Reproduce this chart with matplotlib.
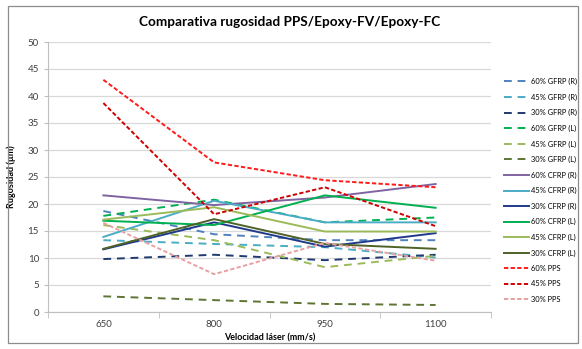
import matplotlib.pyplot as plt
from matplotlib.patches import Rectangle

plt.rcParams['font.family'] = ['Lato', 'DejaVu Sans']

velocidades = ['650', '800', '950', '1100']

series = [
    '60% GFRP (R)', '45% GFRP (R)', '30% GFRP (R)',
    '60% GFRP (L)', '45% GFRP (L)', '30% GFRP (L)',
    '60% CFRP (R)', '45% CFRP (R)', '30% CFRP (R)',
    '60% CFRP (L)', '45% CFRP (L)', '30% CFRP (L)',
    '60% PPS', '45% PPS', '30% PPS',
]

gfrp_60_r = [18.7, 14.4, 13.3, 13.3]
gfrp_45_r = [13.3, 12.6, 12.0, 10.1]
gfrp_30_r = [9.8, 10.6, 9.6, 10.6]
gfrp_60_l = [17.8, 20.8, 16.6, 17.5]
gfrp_45_l = [16.1, 13.3, 8.3, 10.4]
gfrp_30_l = [2.9, 2.2, 1.5, 1.3]
cfrp_60_r = [21.6, 19.8, 21.2, 23.7]
cfrp_45_r = [13.9, 20.6, 16.6, 16.6]
cfrp_30_r = [11.6, 16.6, 12.1, 14.6]
cfrp_60_l = [16.9, 16.1, 21.6, 19.3]
cfrp_45_l = [17.1, 19.4, 14.9, 14.9]
cfrp_30_l = [11.7, 17.2, 12.6, 11.7]
pps_60 = [43.0, 27.7, 24.4, 23.1]
pps_45 = [38.7, 18.1, 23.1, 15.9]
pps_30 = [16.5, 7.0, 12.8, 9.5]

valores = [gfrp_60_r, gfrp_45_r, gfrp_30_r,
           gfrp_60_l, gfrp_45_l, gfrp_30_l,
           cfrp_60_r, cfrp_45_r, cfrp_30_r,
           cfrp_60_l, cfrp_45_l, cfrp_30_l,
           pps_60, pps_45, pps_30]

colores = ['#4F81BD', '#4BACC6', '#1F3A6E',
           '#00B050', '#9BBB59', '#5E7534',
           '#8064A2', '#4BACC6', '#1F3A8A',
           '#00B050', '#9BBB59', '#4F6228',
           '#FF1A1A', '#D00000', '#E8A0A0']

largo = (0, (4, 3))
corto = (0, (2.2, 1.2))
estilos = [largo] * 6 + ['-'] * 6 + [corto] * 3

fig = plt.figure(figsize=(5.82, 3.49), dpi=100)
fig.patches.append(Rectangle((8 / 582, 6 / 349), 570 / 582, 337 / 349,
                             transform=fig.transFigure, fill=False,
                             edgecolor='#8C8C8C', linewidth=0.9))

ax = fig.add_axes([48 / 582, 37 / 349, 443 / 582, 270 / 349])
x = list(range(len(velocidades)))
for nombre, y, c, ls in zip(series, valores, colores, estilos):
    ax.plot(x, y, color=c, linestyle=ls, linewidth=1.4, label=nombre)

ax.set_xlim(-0.5, 3.5)
ax.set_ylim(0, 50)
ax.set_yticks(range(0, 51, 5))
ax.set_xticks(x)
ax.set_xticklabels(velocidades)
ax.set_xticks([i - 0.5 for i in range(5)], minor=True)
ax.tick_params(axis='x', which='major', length=0, labelsize=7, pad=6, colors='#404040')
ax.tick_params(axis='x', which='minor', length=4, color='#BFBFBF')
ax.tick_params(axis='y', length=3, color='#BFBFBF', labelsize=7, colors='#404040')
ax.grid(axis='y', color='#D9D9D9', linewidth=0.9)
ax.set_axisbelow(True)
for s in ['top', 'right']:
    ax.spines[s].set_visible(False)
ax.spines['left'].set_color('#BFBFBF')
ax.spines['bottom'].set_color('#BFBFBF')

ax.set_xlabel('Velocidad láser (mm/s)', fontsize=6.5, fontweight='bold', labelpad=3)
ax.set_ylabel('Rugosidad (µm)', fontsize=6.5, fontweight='bold', labelpad=8)
fig.text(290 / 582, 1 - 22 / 349, 'Comparativa rugosidad PPS/Epoxy-FV/Epoxy-FC',
         ha='center', va='center', fontsize=9.8, fontweight='bold')

ax.legend(loc='upper left', bbox_to_anchor=((504 - 48) / 443, (312 - 78) / 270),
          frameon=False, fontsize=5.4, handlelength=3.3, handletextpad=0.3,
          labelspacing=1.12, borderaxespad=0, borderpad=0)

fig.savefig('out.png', dpi=100)
